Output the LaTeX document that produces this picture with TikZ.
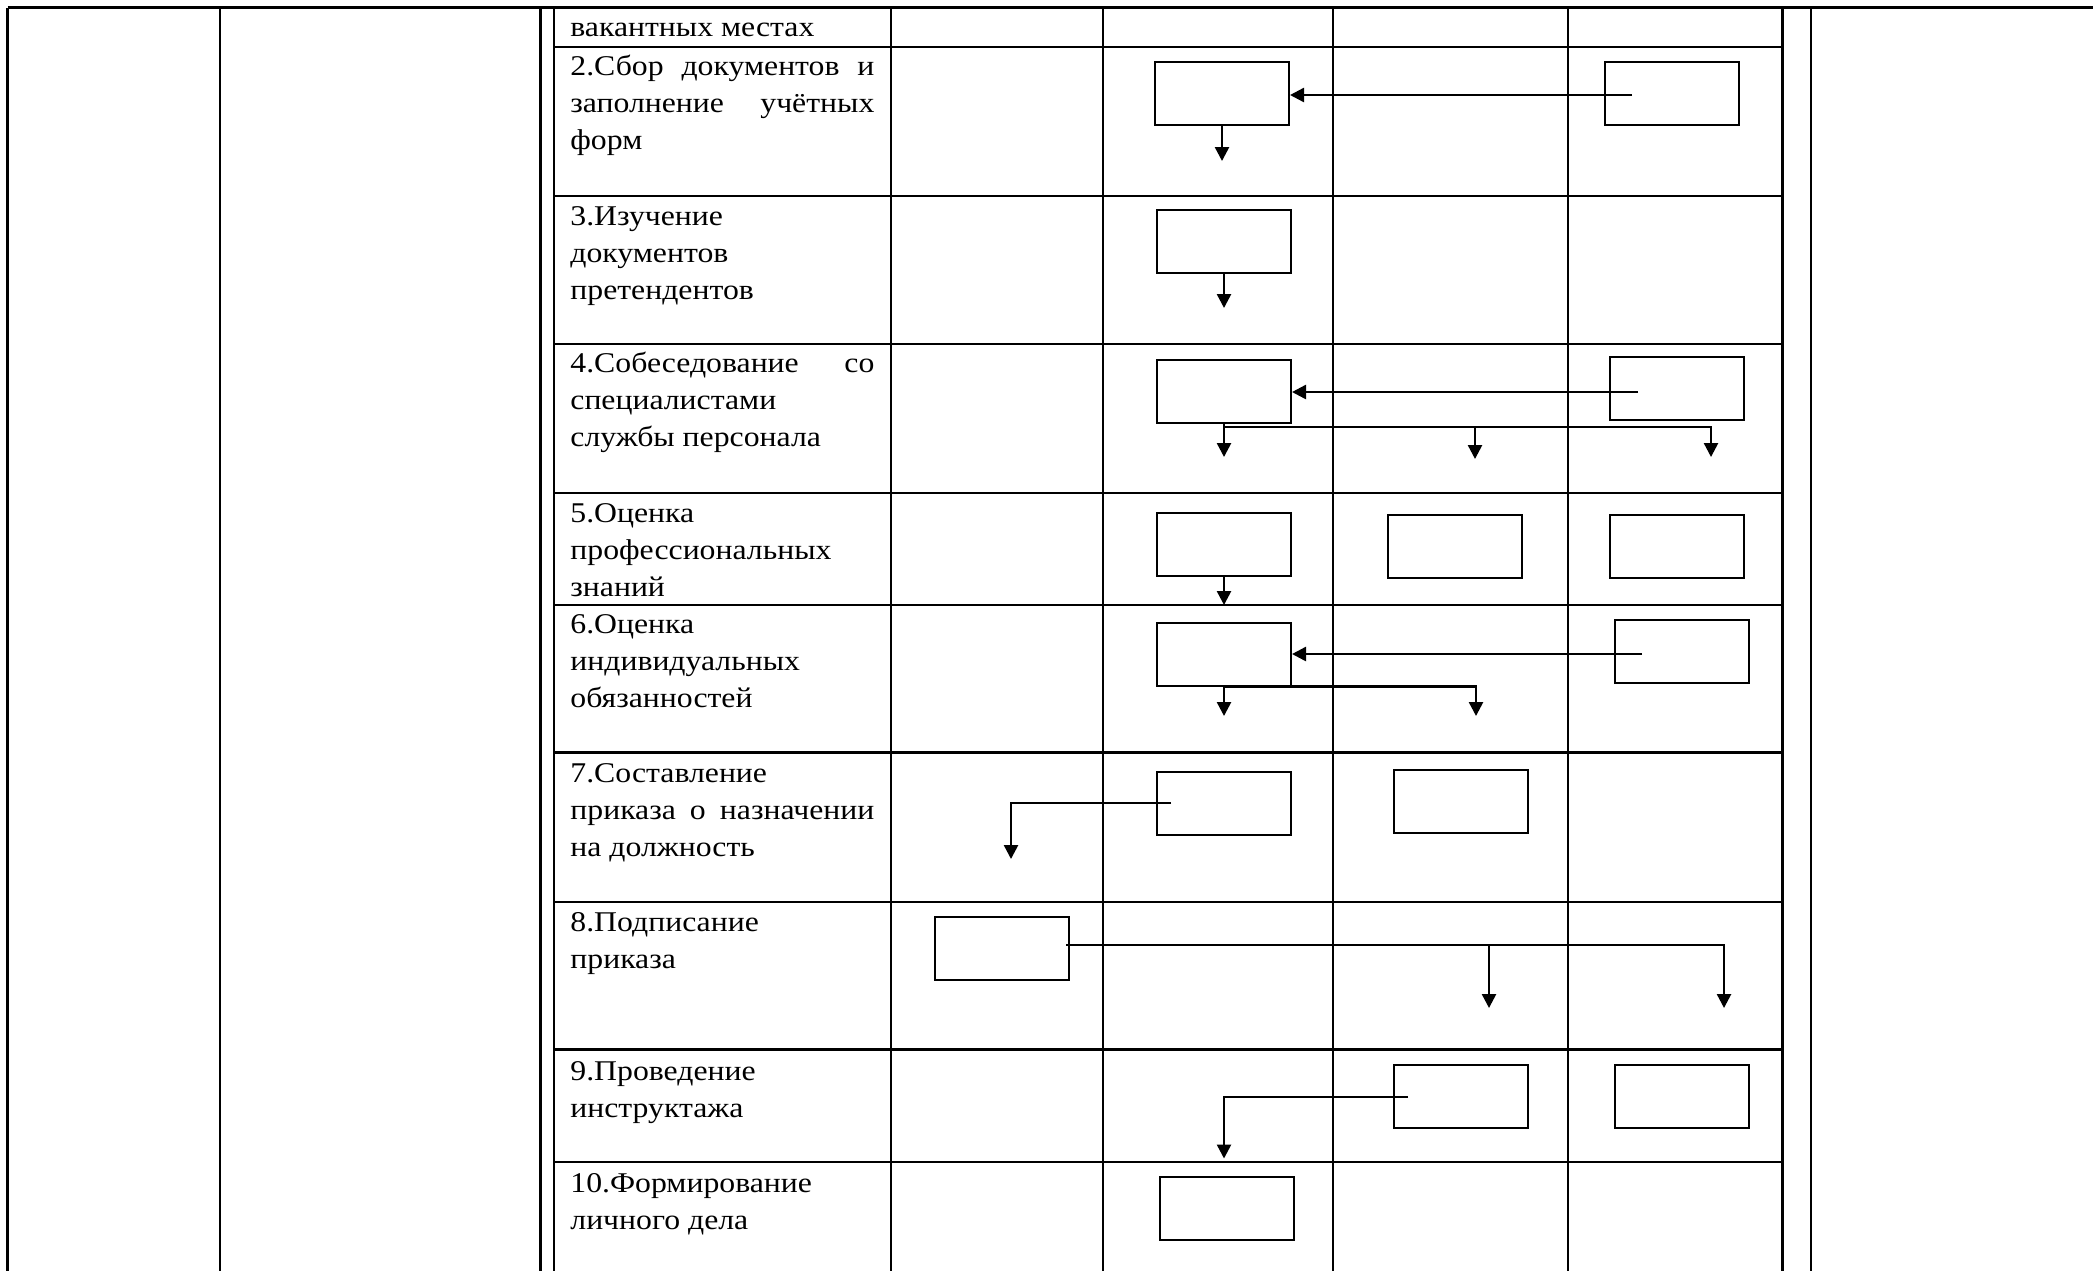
\documentclass[tikz,border=0pt]{standalone}
\usepackage{fontspec}
\newfontfamily\cellfont[FakeStretch=1.11]{Liberation Serif}
\usetikzlibrary{arrows.meta}
\newcommand\jline[1]{\hbox{\makebox[152pt][s]{#1}}}
\newcommand\pline[1]{\hbox{#1}}
\begin{document}
\begin{tikzpicture}[x=0.5pt,y=-0.5pt,
  grid/.style={line width=1.1pt},
  topline/.style={line width=1.5pt},
  box/.style={draw,line width=1pt,rectangle,minimum width=67pt,minimum height=31.5pt,inner sep=0pt},
  conn/.style={line width=1.25pt},
  arr/.style={conn,-{Triangle[length=7pt,width=7pt]}},
  celltext/.style={anchor=base west,inner sep=0pt,font=\cellfont\fontsize{14.3pt}{18.5pt}\selectfont}]
\useasboundingbox (0,0) rectangle (2096,1271);
\fill[white] (0,0) rectangle (2096,1271);
% table
\draw[topline] (7.5,7.5) -- (2093,7.5);
\foreach \x in {7.5,220,540.5,554,891,1103,1333,1568,1782.5,1811}
  \draw[grid] (\x,7.5) -- (\x,1271);
\foreach \y in {47,196,344,493,605,752.5,902,1049.5,1162}
  \draw[grid] (554,\y) -- (1782.5,\y);
% texts
\node[celltext] (t1) at (570,36.5) {\vtop{\pline{вакантных местах}}};
\node[celltext] (t2) at (570,75) {\vtop{\jline{2.Сбор документов и}\jline{заполнение учётных}\pline{форм}}};
\node[celltext] (t3) at (570,225) {\vtop{\pline{3.Изучение}\pline{документов}\pline{претендентов}}};
\node[celltext] (t4) at (570,372) {\vtop{\jline{4.Собеседование со}\pline{специалистами}\pline{службы персонала}}};
\node[celltext] (t5) at (570,522) {\vtop{\pline{5.Оценка}\pline{профессиональных}\pline{знаний}}};
\node[celltext] (t6) at (570,633) {\vtop{\pline{6.Оценка}\pline{индивидуальных}\pline{обязанностей}}};
\node[celltext] (t7) at (570,782) {\vtop{\pline{7.Составление}\jline{приказа о назначении}\pline{на должность}}};
\node[celltext] (t8) at (570,931) {\vtop{\pline{8.Подписание}\pline{приказа}}};
\node[celltext] (t9) at (570,1080) {\vtop{\pline{9.Проведение}\pline{инструктажа}}};
\node[celltext] (t10) at (570,1192) {\vtop{\pline{10.Формирование}\pline{личного дела}}};
% row 2
\node[box] (b2a) at (1222,93.5) {};
\node[box] (b2d) at (1671.5,93.5) {};
\coordinate (s2) at (1632,95);
\coordinate (e2) at (1222,161);
\draw[arr] (s2) -- (b2a.east |- s2);
\draw[arr] (b2a.south) -- (e2);
% row 3
\node[box] (b3a) at (1224,241.5) {};
\coordinate (e3) at (1224,308);
\draw[arr] (b3a.south) -- (e3);
% row 4
\node[box] (b4a) at (1224,391.5) {};
\node[box] (b4d) at (1676.5,388.5) {};
\coordinate (s4) at (1638,392);
\coordinate (k4a) at (1224,427);
\coordinate (k4b) at (1475,427);
\coordinate (e4a) at (1224,457);
\coordinate (e4b) at (1475,459);
\coordinate (e4c) at (1711,457);
\draw[arr] (s4) -- (b4a.east |- s4);
\draw[arr] (b4a.south) -- (e4a);
\draw[arr] (k4a) -| (e4c);
\draw[arr] (k4b) -- (e4b);
% row 5
\node[box] (b5a) at (1224,544.5) {};
\node[box] (b5c) at (1455,546.5) {};
\node[box] (b5d) at (1676.5,546.5) {};
\coordinate (e5) at (1224,605);
\draw[arr] (b5a.south) -- (e5);
% row 6
\node[box] (b6a) at (1224,654) {};
\node[box] (b6d) at (1681.5,651.5) {};
\coordinate (s6) at (1642,654);
\coordinate (e6a) at (1224,716);
\coordinate (e6b) at (1476,716);
\draw[arr] (s6) -- (b6a.east);
\draw[arr] (b6a.south) -- (e6a);
\draw[arr] (b6a.south) -| (e6b);
% row 7
\node[box] (b7a) at (1224,803.5) {};
\node[box] (b7c) at (1460.5,801.5) {};
\coordinate (s7) at (1171,803);
\coordinate (e7) at (1011,859);
\draw[arr] (s7) -| (e7);
% row 8
\node[box] (b8b) at (1002,948.5) {};
\coordinate (s8) at (1066,945);
\coordinate (k8) at (1489,945);
\coordinate (e8a) at (1489,1008);
\coordinate (e8b) at (1724,1008);
\draw[arr] (s8) -| (e8b);
\draw[arr] (k8) -- (e8a);
% row 9
\node[box] (b9c) at (1460.5,1096.5) {};
\node[box] (b9d) at (1681.5,1096.5) {};
\coordinate (s9) at (1408,1097);
\coordinate (e9) at (1224,1158.5);
\draw[arr] (s9) -| (e9);
% row 10
\node[box] (b10a) at (1227,1208.5) {};
\end{tikzpicture}
\end{document}
